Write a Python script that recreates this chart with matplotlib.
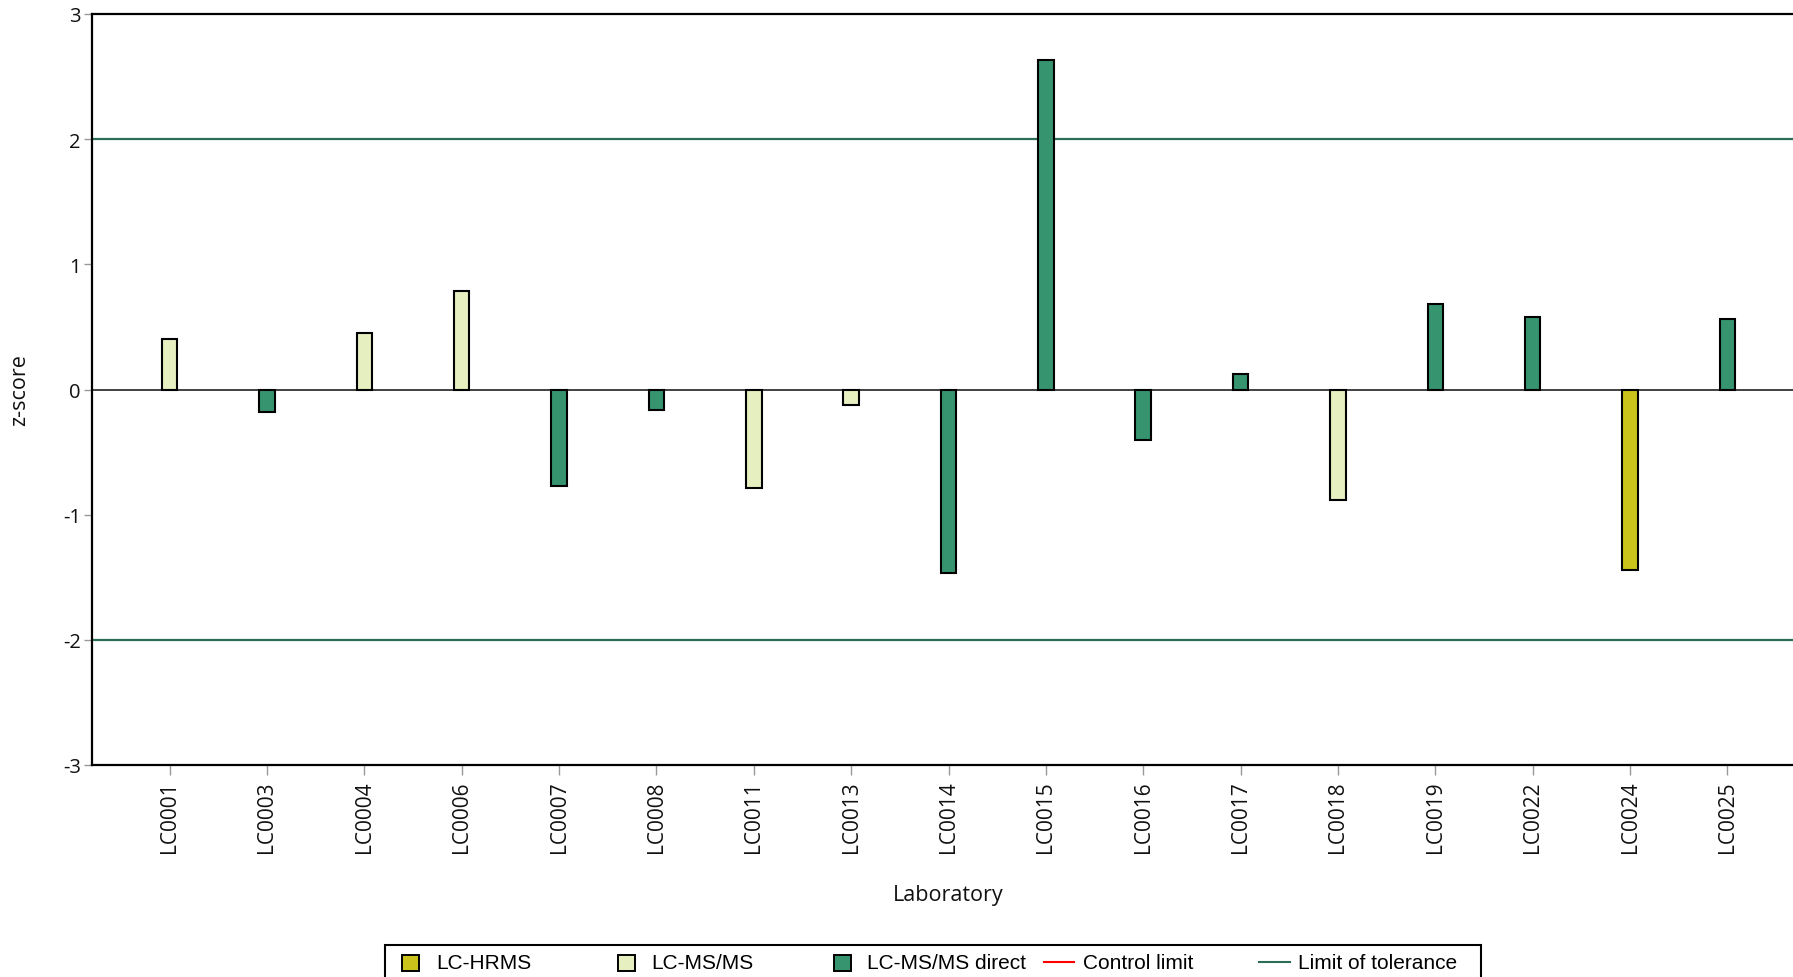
import numpy as np
import matplotlib
matplotlib.use('Agg')
import matplotlib.pyplot as plt
from matplotlib.patches import Rectangle
from matplotlib.lines import Line2D

# z-scores per laboratory
laboratories = ['LC0001', 'LC0003', 'LC0004', 'LC0006', 'LC0007', 'LC0008', 'LC0011',
                'LC0013', 'LC0014', 'LC0015', 'LC0016', 'LC0017', 'LC0018', 'LC0019',
                'LC0022', 'LC0024', 'LC0025']
z_scores = [0.40, -0.18, 0.45, 0.79, -0.77, -0.16, -0.79,
            -0.12, -1.47, 2.63, -0.40, 0.12, -0.88, 0.68,
            0.58, -1.44, 0.56]
methods = ['LC-MS/MS', 'LC-MS/MS direct', 'LC-MS/MS', 'LC-MS/MS', 'LC-MS/MS direct',
           'LC-MS/MS direct', 'LC-MS/MS', 'LC-MS/MS', 'LC-MS/MS direct', 'LC-MS/MS direct',
           'LC-MS/MS direct', 'LC-MS/MS direct', 'LC-MS/MS', 'LC-MS/MS direct',
           'LC-MS/MS direct', 'LC-HRMS', 'LC-MS/MS direct']

method_names = ['LC-HRMS', 'LC-MS/MS', 'LC-MS/MS direct']
method_colors = {'LC-HRMS': '#c9c31c', 'LC-MS/MS': '#e6efc0', 'LC-MS/MS direct': '#36946f'}
tolerance_limit = 2
control_color = '#ff0000'
tolerance_color = '#2b6e55'

W, H = 1793, 978
plt.rcParams['font.family'] = ['Open Sans', 'DejaVu Sans']
plt.rcParams['axes.unicode_minus'] = False

fig = plt.figure(figsize=(W / 100, H / 100), dpi=100)
ax = fig.add_axes([92 / W, 1 - 766 / H, 1713 / W, 751 / H])

x = np.arange(len(laboratories))
ax.bar(x, z_scores, width=0.16, color=[method_colors[m] for m in methods],
       edgecolor='black', linewidth=1.5, zorder=3)

ax.axhline(tolerance_limit, color=tolerance_color, lw=1.6, zorder=1)
ax.axhline(-tolerance_limit, color=tolerance_color, lw=1.6, zorder=1)
ax.axhline(0, color='#333333', lw=1.3, zorder=2)

ax.set_xlim(-0.797, len(laboratories) - 1 + 0.797)
ax.set_ylim(-3, 3)
ax.set_yticks([-3, -2, -1, 0, 1, 2, 3])
ax.set_xticks(x)
ax.set_xticklabels(laboratories, rotation=90)

for side in ['left', 'bottom', 'top']:
    ax.spines[side].set_linewidth(1.6)
    ax.spines[side].set_color('black')
ax.spines['right'].set_visible(False)

ax.tick_params(axis='y', direction='out', length=6, width=1, color='#999999',
               labelsize=14.5, pad=2, labelcolor='#111111')
ax.tick_params(axis='x', direction='out', length=7.5, width=1, color='#999999',
               labelsize=15, pad=3.5, labelcolor='#111111')

ax.set_xlabel('Laboratory', fontsize=15.5, color='#111111')
ax.set_ylabel('z-score', fontsize=15.5, color='#111111')
ax.xaxis.set_label_coords(0.5, -0.159)
ax.yaxis.set_label_coords(-0.036, 0.5)


# legend drawn in pixel positions along the bottom
def fx(px):
    return px / W


def fy(py):
    return 1 - py / H


fig.add_artist(Rectangle((fx(385), fy(995)), fx(1481) - fx(385), fy(946) - fy(995),
                         transform=fig.transFigure, fill=False, ec='black', lw=1.5))

leg_font = ['Liberation Sans', 'DejaVu Sans']
patch_x = [402, 618, 834]
text_x = [436, 651, 867]
for px, tx, name in zip(patch_x, text_x, method_names):
    fig.add_artist(Rectangle((fx(px), fy(972)), fx(16.5), fy(955.5) - fy(972),
                             transform=fig.transFigure, fc=method_colors[name],
                             ec='black', lw=1.4))
    fig.text(fx(tx), fy(969.5), name, fontsize=15, family=leg_font,
             va='baseline', ha='left', color='black')

line_entries = [('Control limit', control_color, 1044, 1074, 1083),
                ('Limit of tolerance', tolerance_color, 1259, 1290, 1298)]
for name, col, x0, x1, tx in line_entries:
    fig.add_artist(Line2D([fx(x0), fx(x1)], [fy(963), fy(963)],
                          transform=fig.transFigure, color=col, lw=1.5))
    fig.text(fx(tx), fy(969.5), name, fontsize=15, family=leg_font,
             va='baseline', ha='left', color='black')

fig.savefig('out.png', dpi=100, facecolor='white')
